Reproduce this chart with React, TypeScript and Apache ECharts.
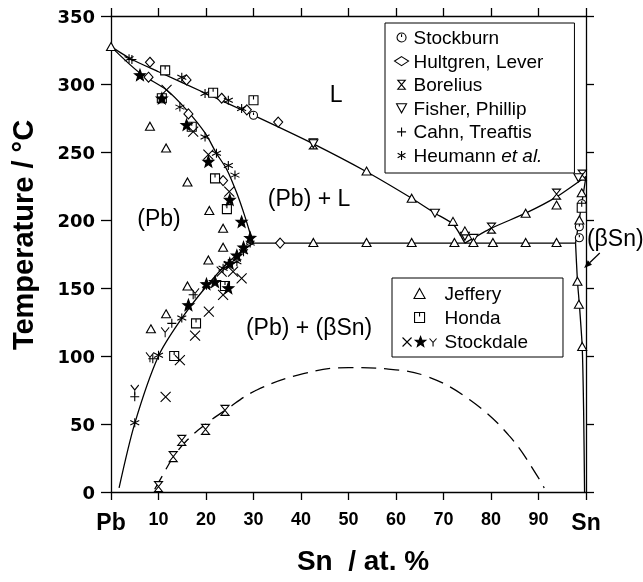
import React, { useEffect, useRef } from 'react';
import * as echarts from 'echarts';

// ---------- phase boundaries (x: at.% Sn, y: °C) ----------
const liquidusPb = [[0, 327.5], [4.4, 318], [10, 309], [20, 293], [30, 277], [42.6, 256], [53.8, 235.5], [63.3, 216], [68.2, 205], [72, 197], [74.5, 183]];
const liquidusSn = [[74.5, 183], [80.1, 194], [87.3, 205], [93.8, 217], [100, 232]];
const solidusPb = [[0, 327.5], [6.1, 308], [11.7, 295.6], [15.9, 281], [19.8, 264], [22.2, 249], [24.4, 237], [26.5, 219.6], [28.2, 202.5], [29.6, 186.5], [29.9, 183]];
const solvusPb = [[29.9, 183], [24.7, 169], [19.8, 150], [14.9, 127.7], [10, 100], [5.05, 51], [1.7, 3]];
const eutecticLine = [[29.9, 183], [97.8, 183]];
const solidusSn = [[97.8, 183], [100, 232]];
const solvusSn = [[97.8, 183], [98.2, 155], [98.6, 138], [99.2, 107], [99.5, 60], [99.7, 0]];
const metastable = [[9.2, 2], [10.5, 10], [13, 25], [16, 38], [20, 50], [24, 60], [30.7, 75], [40.5, 87], [50, 91.5], [58, 90.5], [66.5, 85], [75.6, 67.6], [84, 40.7], [90.3, 8.8], [91.2, 3]];

// ---------- experimental data ----------
const stockburn = [[30, 277], [99.1, 212], [98.6, 195], [98.6, 187]];
const hultgren = [[8.2, 316], [7.9, 305], [15.9, 303], [16.3, 278], [23.3, 289.5], [23.6, 229], [28.6, 281], [35.2, 272], [35.6, 183]];
const borelius = [[42.6, 256], [80.1, 194], [93.8, 219], [99.2, 233], [10, 4], [13.1, 26], [14.9, 38], [19.9, 46], [24, 60]];
const fisher = [[42.6, 256], [68.2, 205], [74.5, 188], [76.3, 186.5], [98.4, 231]];
const cahn = [[4.4, 318], [5, 70], [8.8, 98], [12.8, 124], [17.3, 145]];
const heumann = [[3.8, 318.5], [14.9, 305], [19.8, 293], [24.7, 288], [27.5, 282], [14.5, 283], [19.8, 261], [22.2, 249], [24.7, 240], [26.1, 233], [5, 51], [10, 100.5], [14.9, 128], [20.1, 152], [23.6, 164.5], [24.7, 168], [26.5, 169.3], [27.9, 176.7], [29.3, 183]];
const jeffery = [[0, 327.5], [8.2, 269], [11.6, 253], [16.1, 228], [20.7, 207], [23.6, 194], [23.6, 180], [20.5, 170.6], [16.1, 151.5], [11.6, 131], [8.4, 120], [42.6, 183.5], [53.8, 183.5], [63.3, 183.5], [72.3, 183.5], [76.3, 183.5], [80.4, 183.5], [87.3, 183.5], [93.8, 183.5], [53.8, 236], [63.3, 216], [72, 199], [74.5, 192], [87.3, 205], [93.8, 211], [99.1, 220], [98.6, 200], [98.2, 155], [98.5, 138], [99.2, 107]];
const honda = [[11.4, 310], [21.5, 293.6], [30, 288], [10.7, 289.5], [17, 268.6], [21.9, 230.6], [24.4, 208], [17.9, 124], [13.3, 100], [24, 151.5], [99.1, 209]];
const stockdaleX = [[11.7, 295.6], [17.3, 265], [20.5, 248], [24.9, 220.8], [11.5, 70], [14.5, 97], [17.7, 115], [20.6, 132.6], [23.6, 145], [27.5, 157], [23.3, 162], [25.7, 162]];
const stockdaleStar = [[6.1, 306.6], [10.7, 289.5], [15.9, 270], [20.5, 243], [25, 215], [27.5, 198.8], [29.3, 187], [16.3, 137.5], [20.1, 153], [21.9, 154.6], [24.7, 150], [25, 168], [26.5, 174], [27.9, 180]];
const stockdaleY = [[11.4, 117.4], [8.2, 99], [5, 75], [17.7, 146]];

// ---------- text annotations (data coordinates) ----------
const regionLabels = [
  { text: 'L', at: [47.4, 293], align: 'center' },
  { text: '(Pb) + L', at: [41.7, 216], align: 'center' },
  { text: '(Pb)', at: [10.1, 201.5], align: 'center' },
  { text: '(Pb) + (βSn)', at: [41.7, 121], align: 'center' },
  { text: '(βSn)', at: [100.2, 186.8], align: 'left' },
];
const arrowFrom = [102.9, 175.7];
const arrowTo = [99.6, 164.7];
const legendTop = ['Stockburn', 'Hultgren, Lever', 'Borelius', 'Fisher, Phillip', 'Cahn, Treaftis', 'Heumann et al.'];

// ---------- symbols ----------
function starD(cx: number, cy: number, R: number, r: number) {
  let d = '';
  for (let i = 0; i < 10; i++) {
    const a = -Math.PI / 2 + (i * Math.PI) / 5;
    const rad = i % 2 ? r : R;
    d += (i ? 'L' : 'M') + (cx + rad * Math.cos(a)).toFixed(2) + ',' + (cy + rad * Math.sin(a)).toFixed(2);
  }
  return d + 'Z';
}
const SYM = {
  circ: 'path://M0,5A5,5 0 1 1 10,5A5,5 0 1 1 0,5Z M5,1.5L5,4.5',
  hour: 'path://M0,0L10,0L0,12L10,12Z',
  tup: 'path://M5,0L10,9L0,9Z',
  tdown: 'path://M0,0L10,0L5,9Z',
  plus: 'path://M5,0L5,10M0,5L10,5',
  aster: 'path://M5,0L5,10M0.67,2.5L9.33,7.5M0.67,7.5L9.33,2.5',
  honda: 'path://M0,0L10,0L10,10L0,10Z M5,0L5,4',
  cross: 'path://M0,0L10,10M10,0L0,10',
  star: 'path://' + starD(5.5, 5.5, 5.5, 2.3),
  yy: 'path://M0,0L4,5M8,0L4,5M4,5L4,10',
};
const stockdaleIcon = 'path://M0,1L9,10M9,1L0,10' + starD(18, 5.5, 5.5, 2.3) + 'M27,2L30.5,6M34,2L30.5,6M30.5,6L30.5,10';

const FONT = 'Liberation Sans';

function scatter(name: string, data: number[][], symbol: string, size: number | number[], filled: boolean) {
  return {
    type: 'scatter', name, data, symbol, symbolSize: size, z: 5,
    itemStyle: { color: filled ? '#000' : '#fff', borderColor: '#000', borderWidth: 1.1, opacity: 1 },
    emphasis: { disabled: true },
  };
}
function line(data: number[][], smooth: number | boolean, dashed = false) {
  return {
    type: 'line', data, smooth, showSymbol: false, symbol: 'none', silent: true, z: 2,
    lineStyle: { color: '#000', width: 1.3, type: dashed ? [15, 8] : 'solid' },
  };
}

export default function App() {
  const ref = useRef<HTMLDivElement>(null);
  useEffect(() => {
    const chart = echarts.init(ref.current!, null, { renderer: 'svg' });
    const axisLine = { show: true, onZero: false, lineStyle: { color: '#000', width: 1.3 } };
    chart.setOption({
      animation: false,
      grid: { left: 111, right: 57, top: 16, bottom: 90 },
      xAxis: [
        {
          type: 'value', min: 0, max: 100, interval: 10, position: 'bottom',
          axisLine, splitLine: { show: false },
          axisTick: { show: true, inside: false, length: 8, lineStyle: { color: '#000', width: 1.3 } },
          axisLabel: {
            margin: 18, color: '#000',
            formatter: (v: number) => (v === 0 ? '{e|Pb}' : v === 100 ? '{e|Sn}' : '{n|' + v + '}'),
            rich: {
              e: { fontSize: 23, fontWeight: 'bold', fontFamily: FONT, color: '#000' },
              n: { fontSize: 18, fontWeight: 'bold', fontFamily: FONT, color: '#000' },
            },
          },
        },
        {
          type: 'value', min: 0, max: 100, interval: 10, position: 'top',
          axisLine, splitLine: { show: false }, axisLabel: { show: false },
          axisTick: { show: true, inside: false, length: 8, lineStyle: { color: '#000', width: 1.3 } },
        },
      ],
      yAxis: [
        {
          type: 'value', min: 0, max: 350, interval: 50, position: 'left',
          axisLine, splitLine: { show: false },
          axisTick: { show: true, inside: false, length: 10, lineStyle: { color: '#000', width: 1.3 } },
          axisLabel: { margin: 16, color: '#000', fontFamily: 'DejaVu Sans', fontWeight: 'bold', fontSize: 18 },
        },
        {
          type: 'value', min: 0, max: 350, interval: 50, position: 'right',
          axisLine, splitLine: { show: false }, axisLabel: { show: false },
          axisTick: { show: true, inside: false, length: 8, lineStyle: { color: '#000', width: 1.3 } },
        },
      ],
      legend: [
        {
          data: legendTop.map((n) => ({ name: n })),
          orient: 'vertical', left: 385, top: 23, padding: [5, 31, 8, 9], itemGap: 4.6,
          itemWidth: 14, itemHeight: 9, selectedMode: false,
          backgroundColor: '#fff', borderColor: '#000', borderWidth: 1,
          itemStyle: { borderWidth: 1.1 },
          textStyle: {
            fontFamily: FONT, fontSize: 19, lineHeight: 19, color: '#000',
            rich: { i: { fontFamily: FONT, fontSize: 19, lineHeight: 19, fontStyle: 'italic', color: '#000' } },
          },
          formatter: (n: string) => (n === 'Heumann et al.' ? 'Heumann {i|et al.}' : n),
        },
        {
          data: [{ name: 'Jeffery' }, { name: 'Honda' }, { name: 'Stockdale', icon: stockdaleIcon }],
          orient: 'vertical', left: 392, top: 278, padding: [6, 35, 6, 10], itemGap: 5,
          itemWidth: 40, itemHeight: 10, selectedMode: false,
          backgroundColor: '#fff', borderColor: '#000', borderWidth: 1,
          itemStyle: { borderWidth: 1.1 },
          textStyle: { fontFamily: FONT, fontSize: 19, lineHeight: 19, color: '#000' },
        },
      ],
      series: [
        line(liquidusPb, 0.2),
        line(liquidusSn, 0.2),
        line(solidusPb, 0.3),
        line(solvusPb, 0.3),
        line(eutecticLine, false),
        line(solidusSn, false),
        line(solvusSn, 0.2),
        line(metastable, 0.4, true),
        scatter('Stockburn', stockburn, SYM.circ, 8, false),
        scatter('Hultgren, Lever', hultgren, 'diamond', [9, 10], false),
        scatter('Borelius', borelius, SYM.hour, [8, 10], false),
        scatter('Fisher, Phillip', fisher, SYM.tdown, [9, 8], false),
        scatter('Cahn, Treaftis', cahn, SYM.plus, 9, true),
        scatter('Heumann et al.', heumann, SYM.aster, 9, true),
        scatter('Jeffery', jeffery, SYM.tup, [9, 8], false),
        scatter('Honda', honda, SYM.honda, 9, false),
        scatter('Stockdale', stockdaleX, SYM.cross, 10, true),
        scatter('Stockdale', stockdaleStar, SYM.star, 11, true),
        scatter('Stockdale', stockdaleY, SYM.yy, [8, 10], true),
      ],
    });

    const toPx = (p: number[]) => chart.convertToPixel({ gridIndex: 0 }, p) as number[];
    const a = toPx(arrowFrom);
    const b = toPx(arrowTo);
    const dx = b[0] - a[0], dy = b[1] - a[1];
    const len = Math.hypot(dx, dy);
    const ux = dx / len, uy = dy / len;
    const hl = 8, hw = 3;
    const base = [b[0] - ux * hl, b[1] - uy * hl];
    const graphic: any[] = [
      {
        type: 'text', x: 363, y: 560,
        style: { text: 'Sn  / at. %', fontFamily: FONT, fontWeight: 'bold', fontSize: 28, fill: '#000', align: 'center', verticalAlign: 'middle' },
      },
      {
        type: 'text', x: 23, y: 235, rotation: Math.PI / 2,
        style: { text: 'Temperature / °C', fontFamily: FONT, fontWeight: 'bold', fontSize: 29, fill: '#000', align: 'center', verticalAlign: 'middle' },
      },
      { type: 'line', shape: { x1: a[0], y1: a[1], x2: base[0], y2: base[1] }, style: { stroke: '#000', lineWidth: 1.3 } },
      {
        type: 'polygon',
        shape: { points: [[b[0], b[1]], [base[0] - uy * hw, base[1] + ux * hw], [base[0] + uy * hw, base[1] - ux * hw]] },
        style: { fill: '#000' },
      },
    ];
    regionLabels.forEach((l) => {
      const p = toPx(l.at);
      graphic.push({
        type: 'text', x: p[0], y: p[1],
        style: { text: l.text, fontFamily: FONT, fontSize: 23, fill: '#000', align: l.align, verticalAlign: 'middle' },
      });
    });
    chart.setOption({ graphic });
    return () => chart.dispose();
  }, []);
  return <div ref={ref} style={{ position: 'fixed', left: 0, top: 0, width: 643, height: 582 }} />;
}
